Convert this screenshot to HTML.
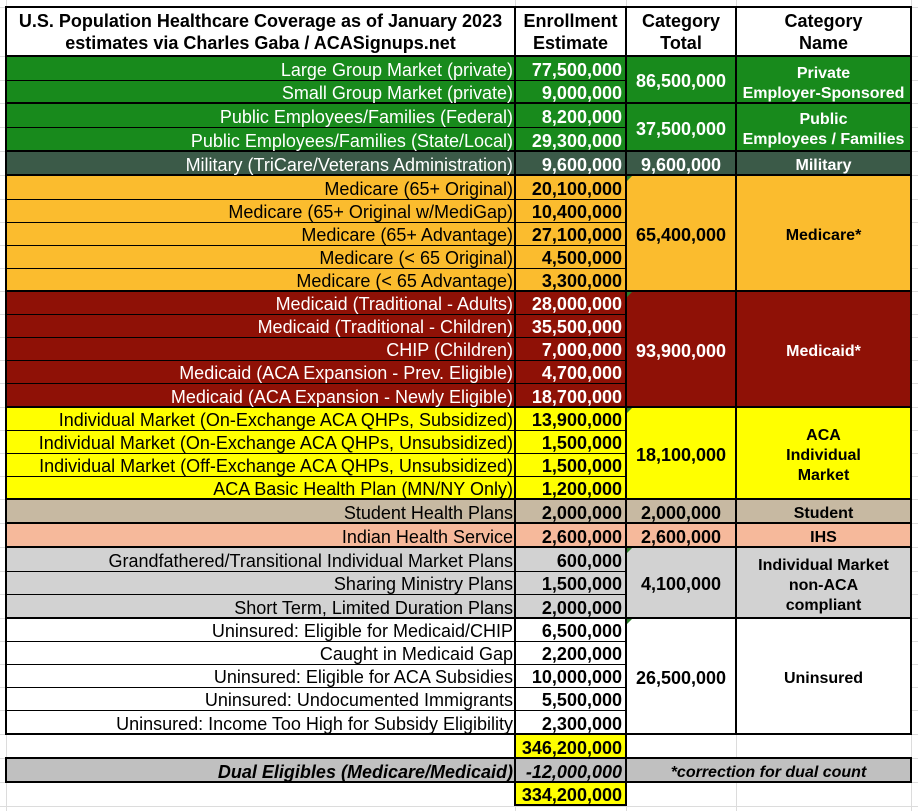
<!DOCTYPE html>
<html><head><meta charset="utf-8">
<style>
*{margin:0;padding:0;box-sizing:border-box}
html,body{width:918px;height:811px;overflow:hidden;background:#fff}
body{position:relative;font-family:"Liberation Sans",Arial,Helvetica,sans-serif;color:#000}
.g{position:absolute;background:#dcdcdc}
.bg{position:absolute;left:6px;width:905px}
.k{position:absolute;background:#000}
.t{position:absolute;display:flex;align-items:center;white-space:nowrap;font-size:18px;transform:translateY(1px)}
.a{left:7px;width:506px;justify-content:flex-end}
.b{left:516px;width:106px;justify-content:flex-end;font-weight:bold}
.c{left:627px;width:108px;justify-content:center;font-weight:bold}
.d{left:737px;width:173px;justify-content:center;text-align:center;font-weight:bold;font-size:16px;line-height:20px;transform:translateY(2px)}
.h{font-weight:bold;justify-content:center;text-align:center;line-height:22px;transform:none}
.w{color:#fff}
.i{font-style:italic;font-weight:bold}
.tri{position:absolute;left:627px;width:0;height:0;border-top:5px solid #2b7f2b;border-right:5px solid transparent}
</style></head><body>

<!-- faint spreadsheet grid -->
<div class="g" style="left:6px;top:0;width:1px;height:811px"></div>
<div class="g" style="left:515px;top:0;width:1px;height:811px"></div>
<div class="g" style="left:626px;top:0;width:1px;height:811px"></div>
<div class="g" style="left:736px;top:0;width:1px;height:811px"></div>
<div class="g" style="left:911px;top:0;width:1px;height:811px"></div>
<div class="g" style="left:0;top:7px;width:918px;height:1px"></div>
<div class="g" style="left:0;top:56px;width:918px;height:1px"></div>
<div class="g" style="left:0;top:80px;width:918px;height:1px"></div>
<div class="g" style="left:0;top:103px;width:918px;height:1px"></div>
<div class="g" style="left:0;top:127px;width:918px;height:1px"></div>
<div class="g" style="left:0;top:151px;width:918px;height:1px"></div>
<div class="g" style="left:0;top:175px;width:918px;height:1px"></div>
<div class="g" style="left:0;top:199px;width:918px;height:1px"></div>
<div class="g" style="left:0;top:222px;width:918px;height:1px"></div>
<div class="g" style="left:0;top:245px;width:918px;height:1px"></div>
<div class="g" style="left:0;top:268px;width:918px;height:1px"></div>
<div class="g" style="left:0;top:291px;width:918px;height:1px"></div>
<div class="g" style="left:0;top:314px;width:918px;height:1px"></div>
<div class="g" style="left:0;top:337px;width:918px;height:1px"></div>
<div class="g" style="left:0;top:360px;width:918px;height:1px"></div>
<div class="g" style="left:0;top:383px;width:918px;height:1px"></div>
<div class="g" style="left:0;top:407px;width:918px;height:1px"></div>
<div class="g" style="left:0;top:430px;width:918px;height:1px"></div>
<div class="g" style="left:0;top:453px;width:918px;height:1px"></div>
<div class="g" style="left:0;top:476px;width:918px;height:1px"></div>
<div class="g" style="left:0;top:499px;width:918px;height:1px"></div>
<div class="g" style="left:0;top:523px;width:918px;height:1px"></div>
<div class="g" style="left:0;top:547px;width:918px;height:1px"></div>
<div class="g" style="left:0;top:571px;width:918px;height:1px"></div>
<div class="g" style="left:0;top:594px;width:918px;height:1px"></div>
<div class="g" style="left:0;top:618px;width:918px;height:1px"></div>
<div class="g" style="left:0;top:641px;width:918px;height:1px"></div>
<div class="g" style="left:0;top:664px;width:918px;height:1px"></div>
<div class="g" style="left:0;top:687px;width:918px;height:1px"></div>
<div class="g" style="left:0;top:710px;width:918px;height:1px"></div>
<div class="g" style="left:0;top:734px;width:918px;height:1px"></div>
<div class="g" style="left:0;top:758px;width:918px;height:1px"></div>
<div class="g" style="left:0;top:782px;width:918px;height:1px"></div>
<div class="g" style="left:0;top:806px;width:918px;height:1px"></div>

<!-- backgrounds -->
<div class="bg" style="top:7px;height:49px;background:#fff"></div>
<div class="bg" style="top:56px;height:95px;background:#188a1c"></div>
<div class="bg" style="top:151px;height:24px;background:#3b5a48"></div>
<div class="bg" style="top:175px;height:116px;background:#fbbc2e"></div>
<div class="bg" style="top:291px;height:116px;background:#8f1106"></div>
<div class="bg" style="top:407px;height:92px;background:#ffff00"></div>
<div class="bg" style="top:499px;height:24px;background:#c7b9a2"></div>
<div class="bg" style="top:523px;height:24px;background:#f6b99b"></div>
<div class="bg" style="top:547px;height:71px;background:#d2d2d2"></div>
<div class="bg" style="top:618px;height:116px;background:#fff"></div>
<div class="bg" style="top:758px;height:24px;background:#c0c0c0"></div>
<div style="position:absolute;left:515px;top:734px;width:111px;height:24px;background:#ffff00"></div>
<div style="position:absolute;left:515px;top:782px;width:111px;height:23px;background:#ffff00"></div>

<!-- thick horizontal lines -->
<div class="k" style="left:5px;width:907px;top:6px;height:2px"></div>
<div class="k" style="left:5px;width:907px;top:55px;height:2px"></div>
<div class="k" style="left:5px;width:907px;top:102px;height:2px"></div>
<div class="k" style="left:5px;width:907px;top:150px;height:2px"></div>
<div class="k" style="left:5px;width:907px;top:174px;height:2px"></div>
<div class="k" style="left:5px;width:907px;top:290px;height:2px"></div>
<div class="k" style="left:5px;width:907px;top:406px;height:2px"></div>
<div class="k" style="left:5px;width:907px;top:498px;height:2px"></div>
<div class="k" style="left:5px;width:907px;top:522px;height:2px"></div>
<div class="k" style="left:5px;width:907px;top:546px;height:2px"></div>
<div class="k" style="left:5px;width:907px;top:617px;height:2px"></div>
<div class="k" style="left:5px;width:907px;top:733px;height:2px"></div>
<div class="k" style="left:5px;width:907px;top:757px;height:2px"></div>
<div class="k" style="left:5px;width:907px;top:781px;height:2px"></div>
<div class="k" style="left:514px;width:113px;top:804px;height:2px"></div>

<!-- thin horizontal lines (col1-col2) -->
<div class="k" style="left:6px;width:620px;top:80px;height:1px"></div>
<div class="k" style="left:6px;width:620px;top:127px;height:1px"></div>
<div class="k" style="left:6px;width:620px;top:199px;height:1px"></div>
<div class="k" style="left:6px;width:620px;top:222px;height:1px"></div>
<div class="k" style="left:6px;width:620px;top:245px;height:1px"></div>
<div class="k" style="left:6px;width:620px;top:268px;height:1px"></div>
<div class="k" style="left:6px;width:620px;top:314px;height:1px"></div>
<div class="k" style="left:6px;width:620px;top:337px;height:1px"></div>
<div class="k" style="left:6px;width:620px;top:360px;height:1px"></div>
<div class="k" style="left:6px;width:620px;top:383px;height:1px"></div>
<div class="k" style="left:6px;width:620px;top:430px;height:1px"></div>
<div class="k" style="left:6px;width:620px;top:453px;height:1px"></div>
<div class="k" style="left:6px;width:620px;top:476px;height:1px"></div>
<div class="k" style="left:6px;width:620px;top:571px;height:1px"></div>
<div class="k" style="left:6px;width:620px;top:594px;height:1px"></div>
<div class="k" style="left:6px;width:620px;top:641px;height:1px"></div>
<div class="k" style="left:6px;width:620px;top:664px;height:1px"></div>
<div class="k" style="left:6px;width:620px;top:687px;height:1px"></div>
<div class="k" style="left:6px;width:620px;top:710px;height:1px"></div>

<!-- vertical lines -->
<div class="k" style="left:5px;width:2px;top:6px;height:729px"></div>
<div class="k" style="left:5px;width:2px;top:757px;height:26px"></div>
<div class="k" style="left:514px;width:2px;top:6px;height:800px"></div>
<div class="k" style="left:625px;width:2px;top:6px;height:800px"></div>
<div class="k" style="left:735px;width:2px;top:6px;height:729px"></div>
<div class="k" style="left:910px;width:2px;top:6px;height:729px"></div>
<div class="k" style="left:910px;width:2px;top:757px;height:26px"></div>

<!-- green indicator triangles -->
<div class="tri" style="top:176px"></div>
<div class="tri" style="top:292px"></div>
<div class="tri" style="top:408px"></div>
<div class="tri" style="top:548px"></div>
<div class="tri" style="top:619px"></div>

<!-- header -->
<div class="t h" style="left:7px;width:507px;top:8px;height:48px"><div>U.S. Population Healthcare Coverage as of January 2023<br>estimates via Charles Gaba / ACASignups.net</div></div>
<div class="t h" style="left:516px;width:109px;top:8px;height:48px"><div>Enrollment<br>Estimate</div></div>
<div class="t h" style="left:627px;width:108px;top:8px;height:48px"><div>Category<br>Total</div></div>
<div class="t h" style="left:737px;width:173px;top:8px;height:48px"><div>Category<br>Name</div></div>

<!-- Private -->
<div class="t a w" style="top:57px;height:24px">Large Group Market (private)</div>
<div class="t b w" style="top:57px;height:24px">77,500,000</div>
<div class="t a w" style="top:81px;height:23px">Small Group Market (private)</div>
<div class="t b w" style="top:81px;height:23px">9,000,000</div>
<div class="t c w" style="top:57px;height:47px">86,500,000</div>
<div class="t d w" style="top:58px;height:47px"><div>Private<br>Employer-Sponsored</div></div>

<!-- Public -->
<div class="t a w" style="top:104px;height:24px">Public Employees/Families (Federal)</div>
<div class="t b w" style="top:104px;height:24px">8,200,000</div>
<div class="t a w" style="top:128px;height:24px">Public Employees/Families (State/Local)</div>
<div class="t b w" style="top:128px;height:24px">29,300,000</div>
<div class="t c w" style="top:104px;height:48px">37,500,000</div>
<div class="t d w" style="top:104px;height:48px"><div>Public<br>Employees / Families</div></div>

<!-- Military -->
<div class="t a w" style="top:152px;height:24px">Military (TriCare/Veterans Administration)</div>
<div class="t b w" style="top:152px;height:24px">9,600,000</div>
<div class="t c w" style="top:152px;height:24px">9,600,000</div>
<div class="t d w" style="top:152px;height:24px">Military</div>

<!-- Medicare -->
<div class="t a" style="top:176px;height:24px">Medicare (65+ Original)</div>
<div class="t b" style="top:176px;height:24px">20,100,000</div>
<div class="t a" style="top:200px;height:23px">Medicare (65+ Original w/MediGap)</div>
<div class="t b" style="top:200px;height:23px">10,400,000</div>
<div class="t a" style="top:223px;height:23px">Medicare (65+ Advantage)</div>
<div class="t b" style="top:223px;height:23px">27,100,000</div>
<div class="t a" style="top:246px;height:23px">Medicare (&lt; 65 Original)</div>
<div class="t b" style="top:246px;height:23px">4,500,000</div>
<div class="t a" style="top:269px;height:23px">Medicare (&lt; 65 Advantage)</div>
<div class="t b" style="top:269px;height:23px">3,300,000</div>
<div class="t c" style="top:176px;height:116px">65,400,000</div>
<div class="t d" style="top:176px;height:116px">Medicare*</div>

<!-- Medicaid -->
<div class="t a w" style="top:292px;height:23px">Medicaid (Traditional - Adults)</div>
<div class="t b w" style="top:292px;height:23px">28,000,000</div>
<div class="t a w" style="top:315px;height:23px">Medicaid (Traditional - Children)</div>
<div class="t b w" style="top:315px;height:23px">35,500,000</div>
<div class="t a w" style="top:338px;height:23px">CHIP (Children)</div>
<div class="t b w" style="top:338px;height:23px">7,000,000</div>
<div class="t a w" style="top:361px;height:23px">Medicaid (ACA Expansion - Prev. Eligible)</div>
<div class="t b w" style="top:361px;height:23px">4,700,000</div>
<div class="t a w" style="top:384px;height:24px">Medicaid (ACA Expansion - Newly Eligible)</div>
<div class="t b w" style="top:384px;height:24px">18,700,000</div>
<div class="t c w" style="top:292px;height:116px">93,900,000</div>
<div class="t d w" style="top:292px;height:116px">Medicaid*</div>

<!-- ACA -->
<div class="t a" style="top:408px;height:23px">Individual Market (On-Exchange ACA QHPs, Subsidized)</div>
<div class="t b" style="top:408px;height:23px">13,900,000</div>
<div class="t a" style="top:431px;height:23px">Individual Market (On-Exchange ACA QHPs, Unsubsidized)</div>
<div class="t b" style="top:431px;height:23px">1,500,000</div>
<div class="t a" style="top:454px;height:23px">Individual Market (Off-Exchange ACA QHPs, Unsubsidized)</div>
<div class="t b" style="top:454px;height:23px">1,500,000</div>
<div class="t a" style="top:477px;height:23px">ACA Basic Health Plan (MN/NY Only)</div>
<div class="t b" style="top:477px;height:23px">1,200,000</div>
<div class="t c" style="top:408px;height:92px">18,100,000</div>
<div class="t d" style="top:408px;height:92px"><div>ACA<br>Individual<br>Market</div></div>

<!-- Student / IHS -->
<div class="t a" style="top:500px;height:24px">Student Health Plans</div>
<div class="t b" style="top:500px;height:24px">2,000,000</div>
<div class="t c" style="top:500px;height:24px">2,000,000</div>
<div class="t d" style="top:500px;height:24px">Student</div>
<div class="t a" style="top:524px;height:24px">Indian Health Service</div>
<div class="t b" style="top:524px;height:24px">2,600,000</div>
<div class="t c" style="top:524px;height:24px">2,600,000</div>
<div class="t d" style="top:524px;height:24px">IHS</div>

<!-- non-ACA -->
<div class="t a" style="top:548px;height:24px">Grandfathered/Transitional Individual Market Plans</div>
<div class="t b" style="top:548px;height:24px">600,000</div>
<div class="t a" style="top:572px;height:23px">Sharing Ministry Plans</div>
<div class="t b" style="top:572px;height:23px">1,500,000</div>
<div class="t a" style="top:595px;height:24px">Short Term, Limited Duration Plans</div>
<div class="t b" style="top:595px;height:24px">2,000,000</div>
<div class="t c" style="top:548px;height:71px">4,100,000</div>
<div class="t d" style="top:548px;height:71px"><div>Individual Market<br>non-ACA<br>compliant</div></div>

<!-- Uninsured -->
<div class="t a" style="top:619px;height:23px">Uninsured: Eligible for Medicaid/CHIP</div>
<div class="t b" style="top:619px;height:23px">6,500,000</div>
<div class="t a" style="top:642px;height:23px">Caught in Medicaid Gap</div>
<div class="t b" style="top:642px;height:23px">2,200,000</div>
<div class="t a" style="top:665px;height:23px">Uninsured: Eligible for ACA Subsidies</div>
<div class="t b" style="top:665px;height:23px">10,000,000</div>
<div class="t a" style="top:688px;height:23px">Uninsured: Undocumented Immigrants</div>
<div class="t b" style="top:688px;height:23px">5,500,000</div>
<div class="t a" style="top:711px;height:24px">Uninsured: Income Too High for Subsidy Eligibility</div>
<div class="t b" style="top:711px;height:24px">2,300,000</div>
<div class="t c" style="top:619px;height:116px">26,500,000</div>
<div class="t d" style="top:619px;height:116px">Uninsured</div>

<!-- totals -->
<div class="t b" style="top:735px;height:24px">346,200,000</div>
<div class="t a i" style="top:759px;height:24px">Dual Eligibles (Medicare/Medicaid)</div>
<div class="t b i" style="top:759px;height:24px">-12,000,000</div>
<div class="t i" style="left:627px;width:283px;justify-content:center;font-size:16px;top:760px;height:24px">*correction for dual count</div>
<div class="t b" style="top:783px;height:23px">334,200,000</div>

</body></html>
